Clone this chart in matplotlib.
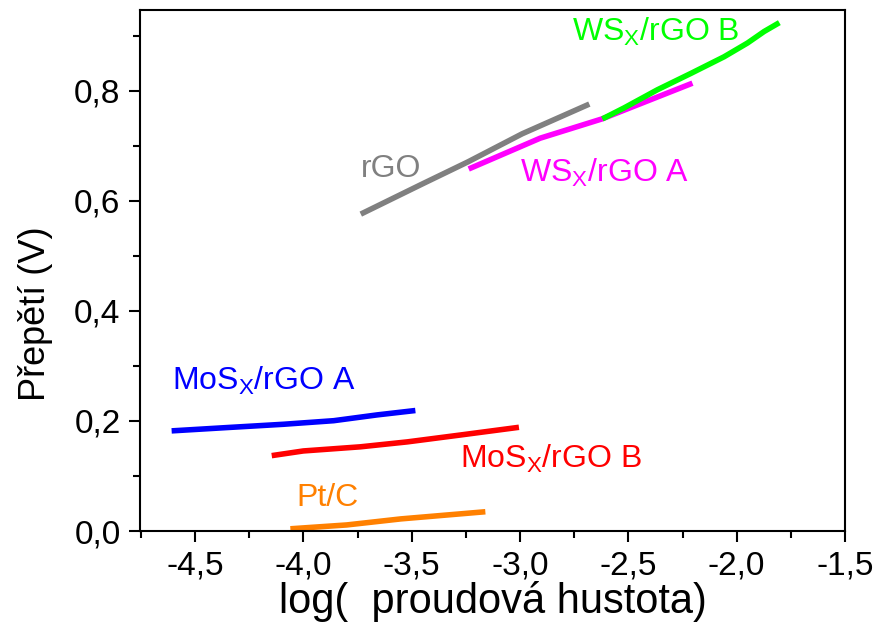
import matplotlib
matplotlib.use("Agg")
from matplotlib import pyplot as plt
from matplotlib.ticker import MultipleLocator, FuncFormatter

plt.rcParams['font.family'] = ['Liberation Sans', 'DejaVu Sans']
plt.rcParams['mathtext.default'] = 'regular'

# Tafel curves: log(j) vs overpotential
mosx_a_x = [-4.608, -4.353, -4.092, -3.86, -3.66, -3.483]
mosx_a_y = [0.182, 0.188, 0.194, 0.2005, 0.211, 0.219]

mosx_b_x = [-4.146, -4.00, -3.737, -3.52, -3.275, -3.005]
mosx_b_y = [0.137, 0.1455, 0.153, 0.162, 0.1745, 0.1885]

ptc_x = [-4.06, -3.80, -3.55, -3.16]
ptc_y = [0.004, 0.011, 0.022, 0.035]

rgo_x = [-3.735, -3.45, -3.24, -2.99, -2.68]
rgo_y = [0.576, 0.631, 0.671, 0.722, 0.776]

wsx_a_x = [-3.237, -2.907, -2.622, -2.204]
wsx_a_y = [0.658, 0.714, 0.749, 0.814]

wsx_b_x = [-2.62, -2.52, -2.366, -2.21, -2.058, -1.95, -1.873, -1.803]
wsx_b_y = [0.749, 0.769, 0.802, 0.832, 0.862, 0.887, 0.908, 0.924]

fig = plt.figure(figsize=(8.77, 6.27), dpi=100)
ax = fig.add_axes([140 / 877, 96 / 627, 705 / 877, 521 / 627])

lw = 4
ax.plot(mosx_a_x, mosx_a_y, color='#0000ff', lw=lw, solid_capstyle='butt')
ax.plot(mosx_b_x, mosx_b_y, color='#ff0000', lw=lw, solid_capstyle='butt')
ax.plot(ptc_x, ptc_y, color='#ff8000', lw=lw, solid_capstyle='butt')
ax.plot(rgo_x, rgo_y, color='#808080', lw=lw, solid_capstyle='butt')
ax.plot(wsx_a_x, wsx_a_y, color='#ff00ff', lw=lw, solid_capstyle='butt')
ax.plot(wsx_b_x, wsx_b_y, color='#00ff00', lw=lw, solid_capstyle='butt')

fs = 23
ax.text(-4.606, 0.256, 'MoS$_X$/rGO A', color='#0000ff', fontsize=fs)
ax.text(-3.275, 0.115, 'MoS$_X$/rGO B', color='#ff0000', fontsize=fs)
ax.text(-4.03, 0.045, 'Pt/C', color='#ff8000', fontsize=fs)
ax.text(-3.734, 0.643, 'rGO', color='#808080', fontsize=fs)
ax.text(-2.998, 0.635, 'WS$_X$/rGO A', color='#ff00ff', fontsize=fs)
ax.text(-2.758, 0.89, 'WS$_X$/rGO B', color='#00ff00', fontsize=fs)

ax.set_xlim(-4.754, -1.5)
ax.set_ylim(0, 0.947)
ax.xaxis.set_major_locator(MultipleLocator(0.5))
ax.xaxis.set_minor_locator(MultipleLocator(0.25))
ax.yaxis.set_major_locator(MultipleLocator(0.2))
ax.yaxis.set_minor_locator(MultipleLocator(0.1))
comma = FuncFormatter(lambda v, p: ('%.1f' % v).replace('.', ','))
ax.xaxis.set_major_formatter(comma)
ax.yaxis.set_major_formatter(comma)
ax.tick_params(which='both', direction='out', width=1.5, labelsize=24, pad=6)
ax.tick_params(which='major', length=8)
ax.tick_params(which='minor', length=5)
for s in ax.spines.values():
    s.set_linewidth(1.5)

ax.set_xlabel('log(  proudová hustota)', fontsize=30, labelpad=0)
ax.set_ylabel('Přepětí (V)', fontsize=26)
ax.yaxis.set_label_coords(-0.124, 0.418)

fig.savefig('out.png', dpi=100)
